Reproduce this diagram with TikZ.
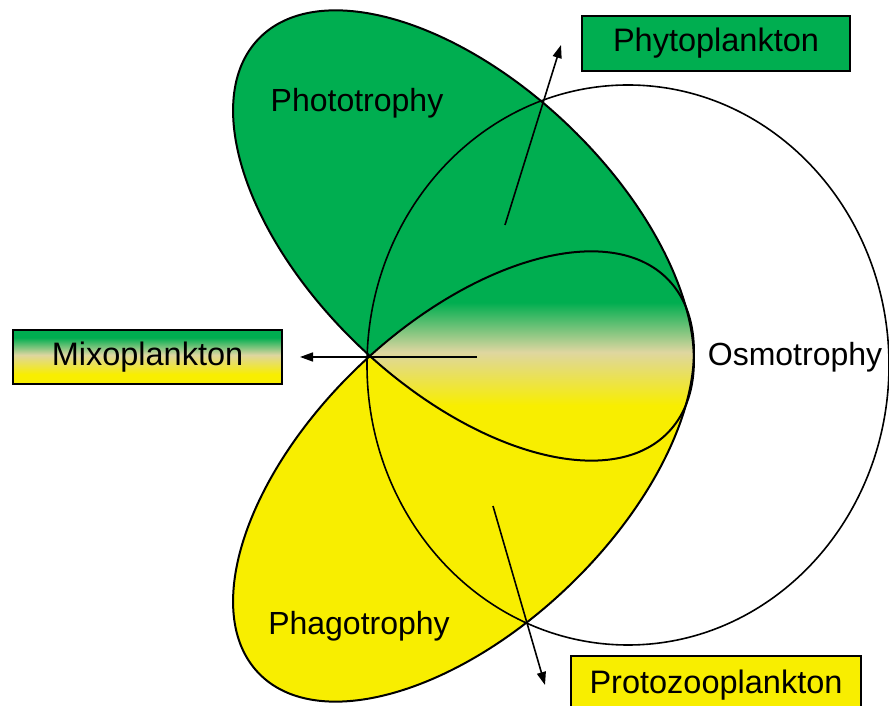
\documentclass[tikz,border=0pt]{standalone}
\usepackage{fontspec}
\setmainfont{Liberation Sans}
\usetikzlibrary{arrows.meta}
\definecolor{mygreen}{RGB}{0,174,80}
\definecolor{myyellow}{RGB}{248,238,0}
\definecolor{mytan}{RGB}{222,214,160}
\pgfdeclareverticalshading{lensshade}{100bp}{color(0bp)=(myyellow); color(38bp)=(myyellow); color(51bp)=(mytan); color(63bp)=(mygreen); color(100bp)=(mygreen)}
\pgfdeclareverticalshading{boxshade}{100bp}{color(0bp)=(myyellow); color(34bp)=(myyellow); color(52bp)=(mytan); color(68bp)=(mygreen); color(100bp)=(mygreen)}
\begin{document}
\begin{tikzpicture}[x=1pt,y=1pt,
  lbl/.style={font=\fontsize{32}{38}\selectfont, inner sep=0pt},
  tag/.style={draw=black, line width=2pt, font=\fontsize{32.5}{38}\selectfont, inner sep=0pt},
  outl/.style={draw=black, line width=2pt},
  arr/.style={draw=black, line width=1.6pt, -{Triangle[length=13pt,width=9pt]}}]
\useasboundingbox (0,0) rectangle (889,706);
% fills
\fill[mygreen, rotate around={-43.8:(463.5,470.5)}] (463.5,470.5) ellipse [x radius=284, y radius=152];
\fill[myyellow, rotate around={43.8:(463.5,229.5)}] (463.5,229.5) ellipse [x radius=284, y radius=152];
% lens with gradient
\begin{scope}
  \clip[rotate around={-43.8:(463.5,470.5)}] (463.5,470.5) ellipse [x radius=284, y radius=152];
  \clip[rotate around={43.8:(463.5,229.5)}] (463.5,229.5) ellipse [x radius=284, y radius=152];
  \shade[shading=lensshade] (360,247) rectangle (700,453);
\end{scope}
% outlines
\draw[outl, rotate around={-43.8:(463.5,470.5)}] (463.5,470.5) ellipse [x radius=284, y radius=152];
\draw[outl, rotate around={43.8:(463.5,229.5)}] (463.5,229.5) ellipse [x radius=284, y radius=152];
\draw[draw=black, line width=1.6pt] (628,341) ellipse [x radius=261, y radius=280];
% labels
\node[lbl] (photo) at (357,603) {Phototrophy};
\node[lbl] (phago) at (359,80) {Phagotrophy};
\node[lbl] (osmo) at (795,349) {Osmotrophy};
% boxes
\node[tag, fill=mygreen, minimum width=268pt, minimum height=55pt] (phyto) at (716,662.5) {Phytoplankton};
\node[tag, shade, shading=boxshade, minimum width=269pt, minimum height=54pt] (mixo) at (147.5,349) {Mixoplankton};
\node[tag, fill=myyellow, minimum width=290pt, minimum height=62pt] (proto) at (716,19) {};
\node[lbl, font=\fontsize{32.5}{38}\selectfont] (protot) at (716,21) {Protozooplankton};
% arrows
\coordinate (phs) at (505,481);
\coordinate (phe) at (561,661);
\coordinate (prs) at (493,200);
\coordinate (pre) at (545,21);
\coordinate (mxs) at (477,349);
\coordinate (mxe) at (300,349);
\draw[arr] (phs) -- (phe);
\draw[arr] (prs) -- (pre);
\draw[arr] (mxs) -- (mxe);
\end{tikzpicture}
\end{document}
